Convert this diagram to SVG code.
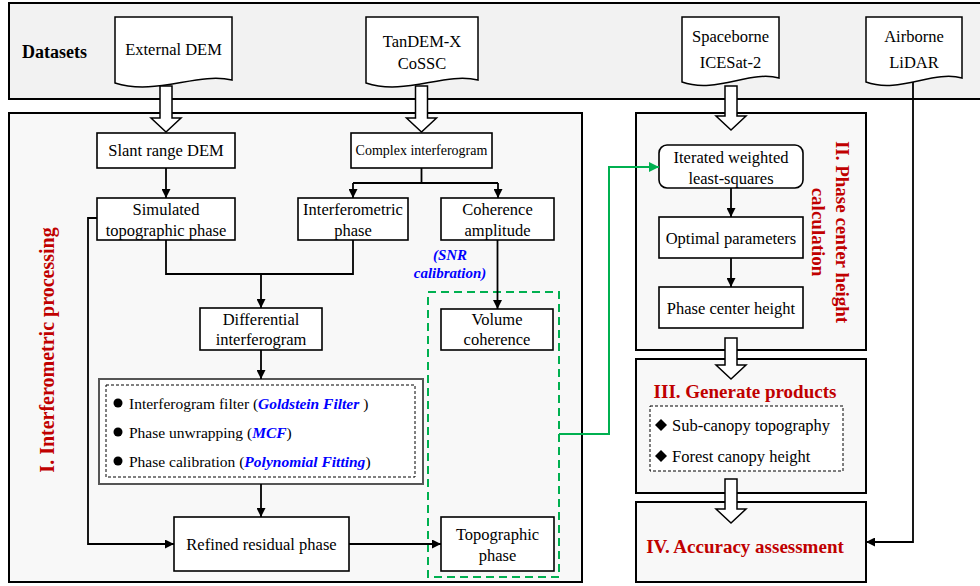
<svg xmlns="http://www.w3.org/2000/svg" width="980" height="586" viewBox="0 0 980 586">
<style>
text{font-family:"Liberation Serif","Times New Roman",serif;fill:#000}
.n{font-size:16.5px;text-anchor:middle}
.sm{font-size:14px;text-anchor:middle}
.box{fill:#fff;stroke:#000;stroke-width:1.6}
.sec{fill:#f8f8f8;stroke:#000;stroke-width:2}
.doc{fill:#fff;stroke:#000;stroke-width:1.5}
.ha{fill:#fff;stroke:#000;stroke-width:1.5}
.c{fill:none;stroke:#000;stroke-width:1.8}
.g{fill:none;stroke:#00b050;stroke-width:2}
.red{fill:#c00000;font-weight:bold}
.blue{fill:#0000ff;font-weight:bold;font-style:italic}
.li{font-size:15.5px}
</style>
<defs>
<marker id="ah" viewBox="0 0 10 10" refX="10" refY="5" markerWidth="9" markerHeight="9" markerUnits="userSpaceOnUse" orient="auto"><path d="M0,0 L10,5 L0,10 z" fill="#000"/></marker>
<marker id="ag" viewBox="0 0 10 10" refX="10" refY="5" markerWidth="10" markerHeight="10" markerUnits="userSpaceOnUse" orient="auto"><path d="M0,0 L10,5 L0,10 z" fill="#00b050"/></marker>
</defs>

<!-- Sections -->
<g id="datasets">
<rect x="9" y="3" width="980" height="96" fill="#f2f2f2" stroke="#000" stroke-width="2"/>
<text x="22" y="58" style="font-size:18px;font-weight:bold">Datasets</text>
</g>
<g id="section1">
<rect class="sec" x="9" y="113" width="573" height="469"/>
<text transform="translate(54,350) rotate(-90)" class="red" style="font-size:20px;text-anchor:middle">I. Interferometric processing</text>
</g>
<g id="section2">
<rect class="sec" x="636" y="113" width="230" height="237"/>
<text transform="translate(836,232) rotate(90)" class="red" style="font-size:19px;text-anchor:middle">II. Phase center height</text>
<text transform="translate(812,232) rotate(90)" class="red" style="font-size:19px;text-anchor:middle">calculation</text>
</g>
<g id="section3">
<rect class="sec" x="636" y="359" width="230" height="134"/>
<text x="745" y="398" class="red" style="font-size:19px;text-anchor:middle">III. Generate products</text>
<rect x="650" y="406" width="193" height="65" fill="#fff" stroke="#000" stroke-width="1" stroke-dasharray="3,2"/>
<path d="M661,419 L667,425 L661,431 L655,425 Z" fill="#000"/>
<text x="672" y="431" style="font-size:16.5px">Sub-canopy topography</text>
<path d="M661,450 L667,456 L661,462 L655,456 Z" fill="#000"/>
<text x="672" y="462" style="font-size:16.5px">Forest canopy height</text>
</g>
<g id="section4">
<rect class="sec" x="636" y="502" width="230" height="80"/>
<text x="745" y="553" class="red" style="font-size:19px;text-anchor:middle">IV. Accuracy assessment</text>
</g>

<!-- Dataset documents -->
<g id="extdem">
<path class="doc" d="M115,17 H232 V80 C197,72 156,96 115,83 Z"/>
<text x="173.5" y="55" class="n">External DEM</text>
</g>
<g id="tandem">
<path class="doc" d="M366,17 H478 V80 C444,72 405,96 366,83 Z"/>
<text x="422" y="47" class="n">TanDEM-X</text>
<text x="422" y="69" class="n">CoSSC</text>
</g>
<g id="icesat">
<path class="doc" d="M682,17 H779 V78 C750,70 716,94 682,82 Z"/>
<text x="730.5" y="42" class="n">Spaceborne</text>
<text x="730.5" y="68" class="n">ICESat-2</text>
</g>
<g id="lidar">
<path class="doc" d="M866,17 H962 V78 C933,70 899,94 866,82 Z"/>
<text x="914" y="42" class="n">Airborne</text>
<text x="914" y="68" class="n">LiDAR</text>
</g>

<!-- Green dashed group -->
<rect x="428" y="292" width="131" height="285" fill="none" stroke="#00b050" stroke-width="2" stroke-dasharray="8,5"/>

<!-- Nodes -->
<g id="slant"><rect class="box" x="97" y="133" width="138" height="35"/><text x="166" y="156" class="n">Slant range DEM</text></g>
<g id="complex"><rect class="box" x="351" y="133" width="141" height="35"/><text x="421.5" y="155" class="sm">Complex interferogram</text></g>
<g id="simulated"><rect class="box" x="97" y="198" width="138" height="42"/><text x="166" y="215" class="n">Simulated</text><text x="166" y="236" class="n">topographic phase</text></g>
<g id="interf"><rect class="box" x="298" y="198" width="110" height="42"/><text x="353" y="215" class="n">Interferometric</text><text x="353" y="236" class="n">phase</text></g>
<g id="coherence"><rect class="box" x="441" y="198" width="113" height="42"/><text x="497.5" y="215" class="n">Coherence</text><text x="497.5" y="236" class="n">amplitude</text></g>
<g id="snr"><text x="450" y="260" class="blue" style="font-size:15px;text-anchor:middle">(SNR</text><text x="450" y="278" class="blue" style="font-size:15px;text-anchor:middle">calibration)</text></g>
<g id="diff"><rect class="box" x="200" y="308" width="122" height="42"/><text x="261" y="325" class="n">Differential</text><text x="261" y="345" class="n">interferogram</text></g>
<g id="volume"><rect class="box" x="441" y="309" width="112" height="41"/><text x="497" y="325" class="n">Volume</text><text x="497" y="345" class="n">coherence</text></g>
<g id="steps">
<rect x="99" y="379" width="324" height="105" fill="#fff" stroke="#555" stroke-width="2"/>
<rect x="106" y="385" width="309" height="92" fill="none" stroke="#000" stroke-width="1" stroke-dasharray="3,2"/>
<circle cx="118" cy="403" r="4.5" fill="#000"/>
<text x="129" y="409" class="li">Interferogram filter (<tspan class="blue">Goldstein Filter</tspan> )</text>
<circle cx="118" cy="432" r="4.5" fill="#000"/>
<text x="129" y="438" class="li">Phase unwrapping (<tspan class="blue">MCF</tspan>)</text>
<circle cx="118" cy="461" r="4.5" fill="#000"/>
<text x="129" y="467" class="li">Phase calibration (<tspan class="blue">Polynomial Fitting</tspan>)</text>
</g>
<g id="refined"><rect class="box" x="174" y="517" width="175" height="54"/><text x="261.5" y="550" class="n">Refined residual phase</text></g>
<g id="topo"><rect class="box" x="441" y="517" width="113" height="54"/><text x="497.5" y="540" class="n">Topographic</text><text x="497.5" y="561" class="n">phase</text></g>
<g id="iwls"><rect class="box" x="659" y="145" width="144" height="43" rx="8"/><text x="731" y="163" class="n">Iterated weighted</text><text x="731" y="184" class="n">least-squares</text></g>
<g id="optimal"><rect class="box" x="659" y="217" width="144" height="41"/><text x="731" y="244" class="n">Optimal parameters</text></g>
<g id="pch"><rect class="box" x="659" y="287" width="144" height="41"/><text x="731" y="314" class="n">Phase center height</text></g>

<!-- Connectors -->
<g id="connectors">
<path class="c" d="M166,168 V198" marker-end="url(#ah)"/>
<path class="c" d="M421.5,168 V183 M353,183 H498"/>
<path class="c" d="M353,183 V198" marker-end="url(#ah)"/>
<path class="c" d="M498,183 V198" marker-end="url(#ah)"/>
<path class="c" d="M166,240 V274 H353 V240"/>
<path class="c" d="M261,274 V308" marker-end="url(#ah)"/>
<path class="c" d="M497.5,240 V309" marker-end="url(#ah)"/>
<path class="c" d="M261,350 V379" marker-end="url(#ah)"/>
<path class="c" d="M261,484 V517" marker-end="url(#ah)"/>
<path class="c" d="M97,218 H88 V544 H174" marker-end="url(#ah)"/>
<path class="c" d="M349,544 H441" marker-end="url(#ah)"/>
<path class="g" d="M559,434 H609 V167 H659" marker-end="url(#ag)"/>
<path class="c" d="M731,188 V217" marker-end="url(#ah)"/>
<path class="c" d="M731,258 V287" marker-end="url(#ah)"/>
<path class="c" d="M913,82 V542 H866" marker-end="url(#ah)"/>
<path class="ha" d="M160,86 V118 H151 L166,132 L181,118 H172 V86 Z"/>
<path class="ha" d="M415.5,86 V118 H406.5 L421.5,132 L436.5,118 H427.5 V86 Z"/>
<path class="ha" d="M725,86 V116 H716 L731,130 L746,116 H737 V86 Z"/>
<path class="ha" d="M725,338 V365 H716 L731,379 L746,365 H737 V338 Z"/>
<path class="ha" d="M725,479 V509 H716 L731,523 L746,509 H737 V479 Z"/>
</g>
</svg>
